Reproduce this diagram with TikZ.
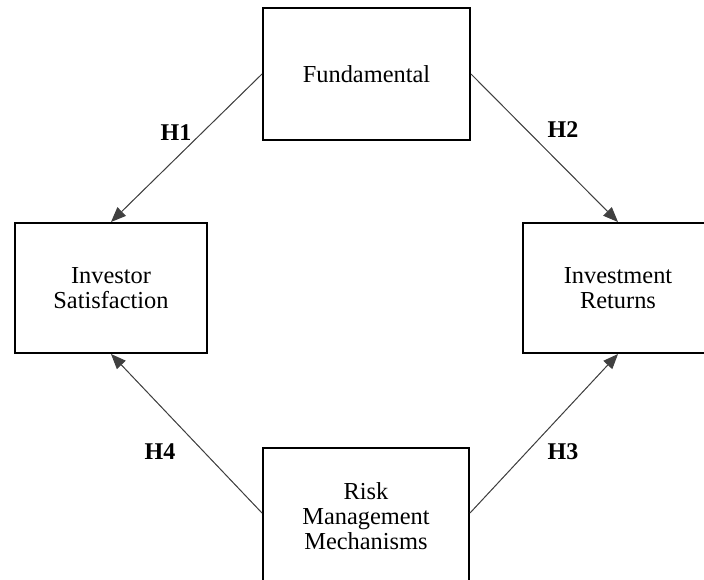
\documentclass[tikz,border=0pt]{standalone}
\usepackage{fontspec}
\setmainfont{Liberation Serif}
\usepackage{tikz}
\usetikzlibrary{arrows.meta}

\begin{document}
\begin{tikzpicture}[x=0.5pt,y=-0.5pt,>={Triangle[length=7.5pt,width=6pt]},
  construct/.style={draw,line width=1pt,align=center,inner sep=0pt,
    font=\fontsize{12.2}{12.5}\selectfont},
  hyppath/.style={->,draw=black!75,fill=black,line width=0.5pt},
  hyplabel/.style={font=\fontsize{12}{13}\selectfont\bfseries,inner sep=1pt}]
  \useasboundingbox (0,0) rectangle (704,579);
  \node[construct,minimum width=103.5pt,minimum height=66pt] (fund) at (366.5,74) {Fundamental};
  \node[construct,minimum width=96pt,minimum height=65pt] (satis) at (111,288) {Investor\\Satisfaction};
  \node[construct,minimum width=95pt,minimum height=65pt] (returns) at (618,288) {Investment\\Returns};
  \node[construct,minimum width=103pt,minimum height=68pt] (risk) at (366,516) {Risk\\Management\\Mechanisms};
  \draw[hyppath] (fund.west) -- (satis.north);
  \draw[hyppath] (fund.east) -- (returns.north);
  \draw[hyppath] (risk.west) ++(0,-3) coordinate (riskw) (riskw) -- (satis.south);
  \draw[hyppath] (risk.east) ++(0,-3) coordinate (riske) (riske) -- (returns.south);
  \node[hyplabel] (h1) at (176,133) {H1};
  \node[hyplabel] (h2) at (563,130) {H2};
  \node[hyplabel] (h3) at (563,452) {H3};
  \node[hyplabel] (h4) at (160,452) {H4};
\end{tikzpicture}
\end{document}
